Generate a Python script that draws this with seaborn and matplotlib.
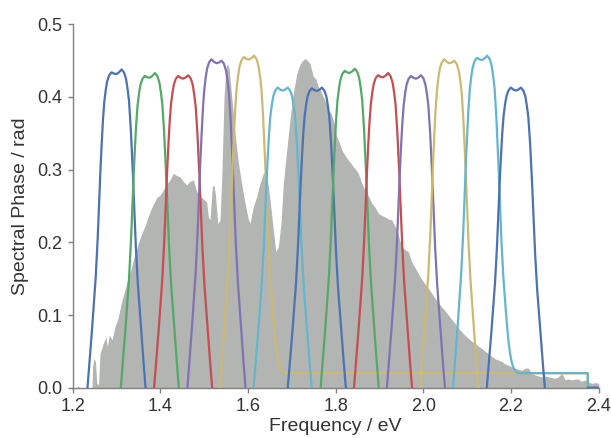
import numpy as np
import pandas as pd
import matplotlib
matplotlib.use("Agg")
import matplotlib.pyplot as plt
import seaborn as sns

# ---------------- data ----------------
# spectrum (grey area): frequency (eV) and spectral intensity in axis units
spec_x = [1.200, 1.210, 1.2121, 1.215, 1.2440, 1.2456, 1.2486, 1.2520, 1.2548, 1.2589,
          1.2623, 1.2698, 1.2760, 1.2790, 1.2835, 1.2897, 1.2965, 1.3033, 1.3102, 1.3170,
          1.3262, 1.3330, 1.3399, 1.3450, 1.3501, 1.3604, 1.3660, 1.3718, 1.3832, 1.3923,
          1.3992, 1.4067, 1.4145, 1.4220, 1.4295, 1.4373, 1.4448, 1.4523, 1.4601, 1.4676,
          1.4752, 1.4829, 1.4904, 1.4980, 1.5057, 1.5094, 1.5133, 1.5185, 1.5224, 1.5258,
          1.5308, 1.5361, 1.5406, 1.5452, 1.5498, 1.5532, 1.5566, 1.5628, 1.5703, 1.5778,
          1.5856, 1.5931, 1.6006, 1.6045, 1.6120, 1.6198, 1.6273, 1.6349, 1.6426, 1.6502,
          1.6577, 1.6632, 1.6691, 1.6752, 1.6805, 1.6883, 1.6958, 1.7033, 1.7111, 1.7186,
          1.7243, 1.7300, 1.7357, 1.7414, 1.7489, 1.7545, 1.7603, 1.7660, 1.7718, 1.7775,
          1.7832, 1.7890, 1.7946, 1.8023, 1.8080, 1.8137, 1.8210, 1.8288, 1.8345, 1.8402,
          1.8460, 1.8516, 1.8590, 1.8669, 1.8745, 1.8822, 1.8900, 1.8972, 1.9050, 1.9125,
          1.9200, 1.9278, 1.9335, 1.9392, 1.9450, 1.9506, 1.9580, 1.9657, 1.9715, 1.9771,
          1.9830, 1.9885, 1.9940, 1.9999, 2.0055, 2.0113, 2.0190, 2.0266, 2.0340, 2.0419,
          2.0490, 2.0569, 2.0645, 2.0722, 2.0800, 2.0875, 2.0950, 2.1026, 2.1100, 2.1179,
          2.1255, 2.1332, 2.1410, 2.1482, 2.1560, 2.1635, 2.1710, 2.1788, 2.1860, 2.1938,
          2.2010, 2.2091, 2.2170, 2.2244, 2.2320, 2.2394, 2.2470, 2.2547, 2.2620, 2.2700,
          2.2780, 2.2851, 2.2930, 2.3004, 2.3080, 2.3157, 2.3232, 2.3310, 2.3385, 2.3460,
          2.3529, 2.3610, 2.3688, 2.3760, 2.3841, 2.3920, 2.4001]
spec_y = [0.000, 0.000, 0.003, 0.000, 0.000, 0.030, 0.041, 0.035, 0.006, 0.004,
          0.047, 0.061, 0.070, 0.056, 0.0725, 0.066, 0.084, 0.095, 0.115, 0.130,
          0.150, 0.163, 0.180, 0.188, 0.200, 0.216, 0.224, 0.235, 0.252, 0.262,
          0.265, 0.272, 0.280, 0.286, 0.295, 0.292, 0.290, 0.284, 0.279, 0.284,
          0.286, 0.270, 0.263, 0.260, 0.255, 0.235, 0.231, 0.277, 0.278, 0.265,
          0.226, 0.230, 0.300, 0.400, 0.440, 0.446, 0.440, 0.400, 0.350, 0.310,
          0.280, 0.254, 0.232, 0.226, 0.249, 0.263, 0.281, 0.295, 0.295, 0.258,
          0.217, 0.187, 0.194, 0.226, 0.281, 0.327, 0.370, 0.405, 0.432, 0.445,
          0.450, 0.453, 0.450, 0.446, 0.428, 0.425, 0.414, 0.408, 0.400, 0.392,
          0.382, 0.378, 0.368, 0.345, 0.338, 0.327, 0.320, 0.313, 0.309, 0.304,
          0.300, 0.295, 0.282, 0.272, 0.264, 0.254, 0.248, 0.240, 0.237, 0.235,
          0.232, 0.231, 0.224, 0.219, 0.205, 0.194, 0.190, 0.187, 0.176, 0.169,
          0.163, 0.157, 0.151, 0.146, 0.141, 0.137, 0.130, 0.123, 0.117, 0.111,
          0.106, 0.100, 0.094, 0.0886, 0.082, 0.077, 0.072, 0.068, 0.064, 0.061,
          0.057, 0.054, 0.050, 0.047, 0.043, 0.040, 0.038, 0.036, 0.033, 0.031,
          0.029, 0.027, 0.025, 0.024, 0.027, 0.027, 0.020, 0.0175, 0.016, 0.015,
          0.016, 0.015, 0.014, 0.013, 0.015, 0.0198, 0.011, 0.012, 0.0106, 0.012,
          0.012, 0.009, 0.0106, 0.008, 0.006, 0.007, 0.006]

# filter curves: centre (eV), left / right bump heights (rad)
centers = [1.300, 1.376, 1.452, 1.528, 1.602, 1.679, 1.757,
           1.832, 1.908, 1.983, 2.059, 2.134, 2.211]
peak_left = [0.434, 0.429, 0.429, 0.452, 0.455, 0.413, 0.412,
             0.436, 0.430, 0.429, 0.452, 0.454, 0.413]
peak_right = [0.438, 0.433, 0.430, 0.450, 0.457, 0.413, 0.413,
              0.439, 0.433, 0.430, 0.450, 0.457, 0.413]
# floor level the right flank settles on, and the range where it holds
floor_level = [None, None, None, None, 0.020, None, None,
               None, None, None, None, 0.020, 0.0]
floor_start = [None, None, None, None, 1.602, None, None,
               None, None, None, None, 2.134, 2.375]
floor_end = [None, None, None, None, 2.375, None, None,
             None, None, None, None, 2.375, 2.400]

# common flat-top profile: |offset| (eV) -> fraction of peak
prof_off = [0.0, 0.0057, 0.0114, 0.0171, 0.0217, 0.0251, 0.0285, 0.0319,
            0.0358, 0.0395, 0.0434, 0.0479, 0.0536, 0.0593, 0.0662, 0.0753, 0.0913]
prof_frac = [0.99, 0.993, 1.0, 0.99, 0.97, 0.94, 0.90, 0.83,
             0.72, 0.60, 0.46, 0.34, 0.23, 0.12, 0.0, -0.16, -0.6]

old_deep = ["#4C72B0", "#55A868", "#C44E52", "#8172B2", "#CCB974", "#64B5CD"]
curve_colors = [old_deep[i % 6] for i in range(len(centers))]

# ---------------- build tidy table ----------------
grid = np.linspace(1.2, 2.4, 2401)
rows = []
for k, c in enumerate(centers):
    off = grid - c
    frac = np.interp(np.abs(off), prof_off, prof_frac)
    h = np.interp(off, [-prof_off[2], prof_off[2]], [peak_left[k], peak_right[k]])
    y = frac * h
    if floor_level[k] is not None:
        m = (grid >= floor_start[k]) & (grid <= floor_end[k])
        s = 0.04
        fl = floor_level[k]
        y[m] = fl + s * np.log1p(np.exp((y[m] - fl) / s))
    rows.append(pd.DataFrame({"x": grid, "y": y, "filter": f"f{k:02d}"}))
df = pd.concat(rows, ignore_index=True)

# ---------------- plot ----------------
sns.set_theme(style="ticks", context="notebook")
plt.rcParams["font.family"] = ["Liberation Sans", "DejaVu Sans"]
plt.rcParams["axes.edgecolor"] = "0.5"
plt.rcParams["xtick.color"] = "0.5"
plt.rcParams["ytick.color"] = "0.5"
plt.rcParams["xtick.labelcolor"] = "0.2"
plt.rcParams["ytick.labelcolor"] = "0.2"
plt.rcParams["axes.labelcolor"] = "0.2"

fig = plt.figure(figsize=(6.11, 4.38), dpi=100)
ax = fig.add_axes([0.119, 0.1148, 0.9799 - 0.119, 0.9445 - 0.1148])

ax.fill_between(spec_x, spec_y, 0, color="#b3b5b2", lw=0, zorder=1)

sns.lineplot(data=df, x="x", y="y", hue="filter", palette=curve_colors,
             estimator=None, sort=False, legend=False, lw=1.6, ax=ax, zorder=3)

ax.set_xlim(1.2, 2.4)
ax.set_ylim(0.0, 0.5)
ax.set_xticks(np.arange(1.2, 2.41, 0.2))
ax.set_yticks(np.arange(0.0, 0.51, 0.1))
ax.set_xticklabels([f"{v:.1f}" for v in np.arange(1.2, 2.41, 0.2)])
ax.set_yticklabels([f"{v:.1f}" for v in np.arange(0.0, 0.51, 0.1)])
ax.tick_params(axis="both", labelsize=13, length=3.5, width=1.0, pad=4)
ax.set_xlabel("Frequency / eV", fontsize=14, labelpad=2)
ax.set_ylabel("Spectral Phase / rad", fontsize=14, labelpad=6)
sns.despine(ax=ax)
for sp in ax.spines.values():
    sp.set_linewidth(1.0)
    sp.set_zorder(2.5)

fig.savefig("out.png", dpi=100)
